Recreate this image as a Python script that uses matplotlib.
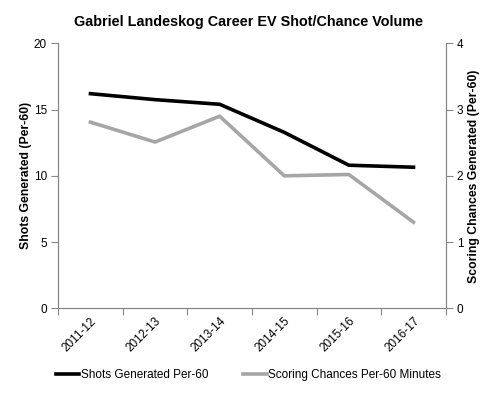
import matplotlib
matplotlib.use("Agg")
import matplotlib.pyplot as plt
from matplotlib.lines import Line2D

plt.rcParams['font.family'] = ['Liberation Sans', 'DejaVu Sans']

seasons = ["2011-12", "2012-13", "2013-14", "2014-15", "2015-16", "2016-17"]
shots_per60 = [16.2, 15.75, 15.4, 13.28, 10.8, 10.65]
chances_per60 = [2.81, 2.51, 2.90, 2.00, 2.02, 1.30]

spine_col = "#868686"

fig = plt.figure(figsize=(4.97, 3.94), dpi=100)
ax = fig.add_axes([0.117, 0.2175, 0.78, 0.6725])
ax2 = ax.twinx()

x = list(range(len(seasons)))
ax.plot(x, shots_per60, color="black", lw=2.6, solid_joinstyle="round", zorder=3)
ax2.plot(x, chances_per60, color="#A6A6A6", lw=2.6, solid_joinstyle="round")

ax.set_xlim(-0.5, len(seasons) - 0.5)
ax.set_ylim(0, 20)
ax.set_yticks([0, 5, 10, 15, 20])
ax2.set_ylim(0, 4)
ax2.set_yticks([0, 1, 2, 3, 4])

ax.set_xticks([i - 0.5 for i in range(len(seasons) + 1)])
ax.set_xticklabels([])
ax.set_xticks(x, minor=True)
ax.set_xticklabels(seasons, minor=True, rotation=45, ha="right", rotation_mode="anchor", fontsize=8.5)
ax.tick_params(axis="x", which="minor", length=0, pad=5)
ax.tick_params(axis="x", which="major", length=5, direction="out", color=spine_col)

for a in (ax, ax2):
    a.spines["top"].set_visible(False)
    for s in ("left", "right", "bottom"):
        a.spines[s].set_color(spine_col)
    a.tick_params(axis="y", length=5, direction="out", color=spine_col, labelsize=8.5, pad=3)

ax.set_ylabel("Shots Generated (Per-60)", fontsize=8.8, fontweight="bold", labelpad=1.5)
ax2.set_ylabel("Scoring Chances Generated (Per-60)", fontsize=8.8, fontweight="bold", labelpad=3)

fig.suptitle("Gabriel Landeskog Career EV Shot/Chance Volume", fontsize=10.4, fontweight="bold", x=0.5, y=0.963)

handles = [Line2D([], [], color="black", lw=2.6), Line2D([], [], color="#A6A6A6", lw=2.6)]
fig.legend(handles, ["Shots Generated Per-60", "Scoring Chances Per-60 Minutes"],
           loc="center", bbox_to_anchor=(0.5, 0.048), ncol=2, frameon=False,
           fontsize=8.5, handlelength=2.0, handletextpad=0.15, columnspacing=2.9)

fig.savefig("out.png", dpi=100)
